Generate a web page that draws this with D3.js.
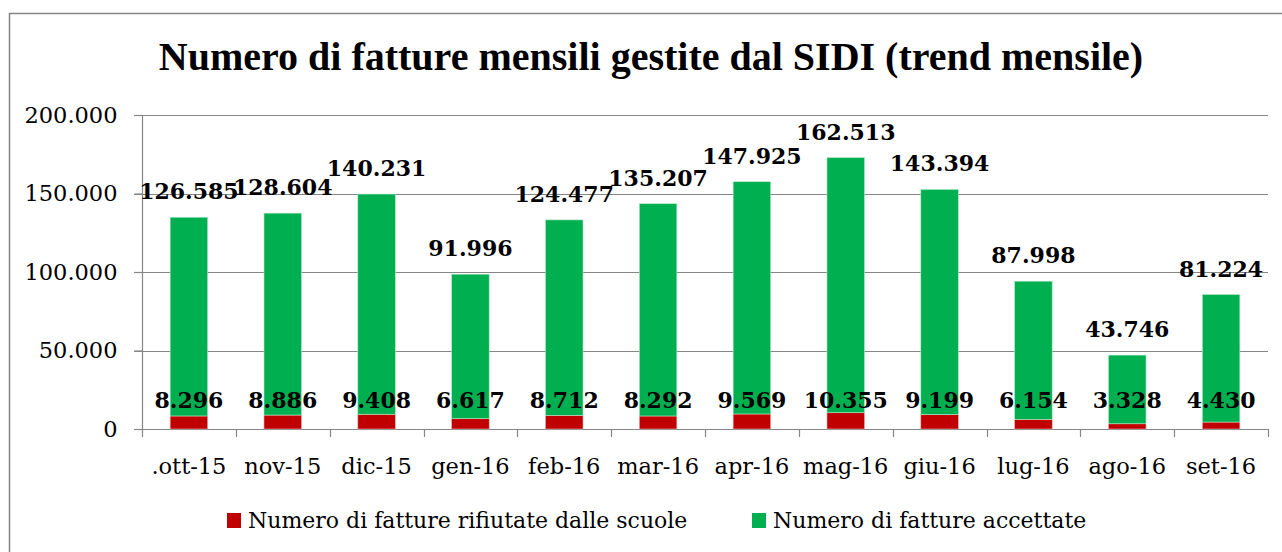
<!DOCTYPE html>
<html>
<head>
<meta charset="utf-8">
<style>
  body { margin: 0; background: #fff; }
  svg { display: block; }
  text { font-family: "DejaVu Serif", serif; fill: #000; }
</style>
</head>
<body>
<svg width="1282" height="552"></svg>
<script src="https://d3js.org/d3.v7.min.js"></script>
<script>
// months, rejected invoices (red, bottom) and accepted invoices (green, top)
const months = ['.ott-15', 'nov-15', 'dic-15', 'gen-16', 'feb-16', 'mar-16', 'apr-16', 'mag-16', 'giu-16', 'lug-16', 'ago-16', 'set-16'];
const rifiutate = [8296, 8886, 9408, 6617, 8712, 8292, 9569, 10355, 9199, 6154, 3328, 4430];
const accettate = [126585, 128604, 140231, 91996, 124477, 135207, 147925, 162513, 143394, 87998, 43746, 81224];
const yTicks = [0, 50000, 100000, 150000, 200000];
const seriesNames = ['Numero di fatture rifiutate dalle scuole', 'Numero di fatture accettate'];

const red = '#C00000', green = '#00B050', grid = '#868686';
const fmt = v => d3.format(',')(v).replace(/,/g, '.');

const svg = d3.select('svg');

// outer chart frame (runs off the right / bottom edge)
svg.append('rect')
  .attr('x', 9.5).attr('y', 13.5)
  .attr('width', 1300).attr('height', 600)
  .attr('fill', 'none').attr('stroke', grid).attr('stroke-width', 1.5);

// title
svg.append('text')
  .attr('x', 651).attr('y', 70)
  .attr('text-anchor', 'middle')
  .style('font-family', '"Liberation Serif", serif')
  .style('font-weight', 'bold')
  .style('font-size', '40px')
  .text('Numero di fatture mensili gestite dal SIDI (trend mensile)');

const x = d3.scaleBand().domain(months).range([142, 1268]).paddingInner(0.6).paddingOuter(0.3);
const y = d3.scaleLinear().domain([0, 200000]).range([429, 115]);

// gridlines
svg.append('g').selectAll('line')
  .data(yTicks.slice(1)).enter()
  .append('line')
  .attr('x1', 134).attr('x2', 1268)
  .attr('y1', d => Math.round(y(d)) + 0.5).attr('y2', d => Math.round(y(d)) + 0.5)
  .attr('stroke', grid).attr('stroke-width', 1.2);

// y axis
const yAxis = d3.axisLeft(y).tickValues(yTicks).tickSize(8).tickPadding(17).tickFormat(fmt);
const gy = svg.append('g').attr('transform', 'translate(142.5,0)').call(yAxis);
gy.selectAll('line, path').attr('stroke', grid).attr('stroke-width', 1.2);
gy.select('.domain').attr('d', 'M0,' + y(200000) + 'V' + y(0));
gy.selectAll('text').style('font-size', '22.5px').style('font-family', '"DejaVu Serif", serif').attr('fill', '#000');

// x axis: baseline + ticks at category boundaries
const step = x.step();
const x0 = 142;
svg.append('line')
  .attr('x1', 134).attr('x2', 1268)
  .attr('y1', y(0) + 0.5).attr('y2', y(0) + 0.5)
  .attr('stroke', grid).attr('stroke-width', 1.2);
svg.append('g').selectAll('line')
  .data(d3.range(months.length + 1)).enter()
  .append('line')
  .attr('x1', i => Math.round(x0 + i * step) + 0.5).attr('x2', i => Math.round(x0 + i * step) + 0.5)
  .attr('y1', y(0)).attr('y2', y(0) + 8)
  .attr('stroke', grid).attr('stroke-width', 1.2);
svg.append('g').selectAll('text')
  .data(months).enter()
  .append('text')
  .attr('x', d => x(d) + x.bandwidth() / 2)
  .attr('y', 474)
  .attr('text-anchor', 'middle')
  .style('font-size', '22.5px')
  .text(d => d);

// stacked bars
const rows = months.map((m, i) => ({ m: m, r: rifiutate[i], a: accettate[i] }));
const bars = svg.append('g');
bars.selectAll('.rej')
  .data(rows).enter()
  .append('rect')
  .attr('x', d => x(d.m)).attr('width', x.bandwidth())
  .attr('y', d => y(d.r)).attr('height', d => y(0) - y(d.r))
  .attr('fill', red).attr('stroke', '#e8b0b0').attr('stroke-width', 0.6);
bars.selectAll('.acc')
  .data(rows).enter()
  .append('rect')
  .attr('x', d => x(d.m)).attr('width', x.bandwidth())
  .attr('y', d => y(d.r + d.a)).attr('height', d => y(d.r) - y(d.r + d.a))
  .attr('fill', green).attr('stroke', '#b8e8c8').attr('stroke-width', 0.6);

// value labels
svg.append('g').selectAll('text')
  .data(rows).enter()
  .append('text')
  .attr('x', d => x(d.m) + x.bandwidth() / 2)
  .attr('y', d => y(d.r + d.a) - 18)
  .attr('text-anchor', 'middle')
  .style('font-weight', 'bold').style('font-size', '22px')
  .text(d => fmt(d.a));
svg.append('g').selectAll('text')
  .data(rows).enter()
  .append('text')
  .attr('x', d => x(d.m) + x.bandwidth() / 2)
  .attr('y', y(0) - 21)
  .attr('text-anchor', 'middle')
  .style('font-weight', 'bold').style('font-size', '22px')
  .text(d => fmt(d.r));

// legend
const legend = svg.append('g');
const lx = [227, 752];
[red, green].forEach((c, i) => {
  legend.append('rect').attr('x', lx[i]).attr('y', 513).attr('width', 14).attr('height', 15).attr('fill', c);
  legend.append('text').attr('x', lx[i] + 21).attr('y', 528)
    .style('font-size', '22px')
    .text(seriesNames[i]);
});
</script>
</body>
</html>
